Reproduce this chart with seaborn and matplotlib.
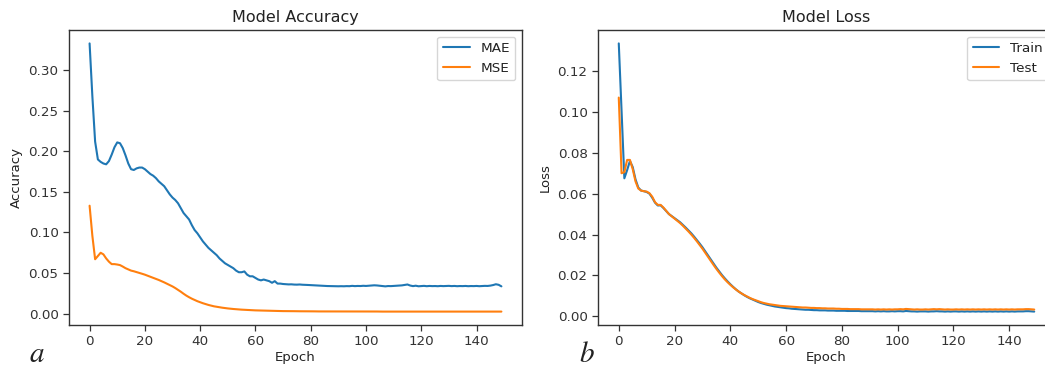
import matplotlib
matplotlib.use("Agg")
import matplotlib.pyplot as plt
import seaborn as sns
import pandas as pd

# ---------------- data ----------------
epochs = list(range(150))

mae = [
    0.333, 0.268, 0.212, 0.190, 0.187, 0.185, 0.184, 0.188, 0.196, 0.205,
    0.211, 0.210, 0.204, 0.195, 0.185, 0.178, 0.177, 0.179, 0.180, 0.180,
    0.178, 0.175, 0.172, 0.170, 0.167, 0.163, 0.160, 0.157, 0.152, 0.147,
    0.143, 0.140, 0.136, 0.130, 0.124, 0.120, 0.116, 0.109, 0.103, 0.099,
    0.094, 0.089, 0.085, 0.081, 0.078, 0.075, 0.072, 0.068, 0.065, 0.062,
    0.060, 0.058, 0.056, 0.053, 0.051, 0.051, 0.052, 0.048, 0.046, 0.046,
    0.044, 0.042, 0.041, 0.042, 0.041, 0.040, 0.038, 0.040, 0.037, 0.037,
    0.0365, 0.0362, 0.0360, 0.0361, 0.0358, 0.0357, 0.0359, 0.0356, 0.0355, 0.0353,
    0.0351, 0.0350, 0.0348, 0.0346, 0.0344, 0.0342, 0.0340, 0.0339, 0.0338, 0.0338,
    0.0337, 0.0338, 0.0337, 0.0339, 0.0338, 0.0342, 0.0339, 0.0341, 0.0340, 0.0343,
    0.0341, 0.0344, 0.0346, 0.0349, 0.0347, 0.0343, 0.0338, 0.0336, 0.0340, 0.0339,
    0.0341, 0.0343, 0.0345, 0.0348, 0.0353, 0.0359, 0.0346, 0.0339, 0.0344, 0.0337,
    0.0340, 0.0342, 0.0338, 0.0341, 0.0339, 0.0340, 0.0338, 0.0341, 0.0339, 0.0340,
    0.0342, 0.0339, 0.0341, 0.0338, 0.0340, 0.0339, 0.0341, 0.0338, 0.0340, 0.0339,
    0.0341, 0.0338, 0.0340, 0.0342, 0.0341, 0.0345, 0.0352, 0.0362, 0.0355, 0.0336,
]

mse = [
    0.133, 0.096, 0.067, 0.071, 0.075, 0.073, 0.068, 0.064, 0.061, 0.061,
    0.0605, 0.0598, 0.0580, 0.0560, 0.0545, 0.0530, 0.0522, 0.0512, 0.0502, 0.0491,
    0.0480, 0.0467, 0.0453, 0.0440, 0.0428, 0.0415, 0.0400, 0.0385, 0.0368, 0.0352,
    0.0335, 0.0315, 0.0293, 0.0270, 0.0245, 0.0222, 0.0202, 0.0184, 0.0168, 0.0153,
    0.0140, 0.0128, 0.0117, 0.0107, 0.0098, 0.0090, 0.0084, 0.0078, 0.0073, 0.0068,
    0.0064, 0.0060, 0.0057, 0.0054, 0.0051, 0.0049, 0.0047, 0.0045, 0.0043, 0.0041,
    0.0040, 0.0039, 0.0038, 0.0037, 0.0036, 0.0035, 0.0034, 0.0033, 0.0033, 0.0032,
    0.0031, 0.0031, 0.0030, 0.0030, 0.0030, 0.0029, 0.0029, 0.0029, 0.0028, 0.0028,
    0.0028, 0.0028, 0.0027, 0.0027, 0.0027, 0.0027, 0.0027, 0.0026, 0.0026, 0.0026,
    0.0026, 0.0026, 0.0026, 0.0026, 0.0026, 0.0026, 0.0026, 0.0026, 0.0026, 0.0026,
    0.0026, 0.0026, 0.0026, 0.0026, 0.0026, 0.0025, 0.0025, 0.0025, 0.0025, 0.0025,
    0.0025, 0.0025, 0.0025, 0.0025, 0.0025, 0.0025, 0.0025, 0.0025, 0.0025, 0.0025,
    0.0025, 0.0025, 0.0025, 0.0025, 0.0025, 0.0025, 0.0025, 0.0025, 0.0025, 0.0025,
    0.0025, 0.0025, 0.0025, 0.0025, 0.0025, 0.0025, 0.0025, 0.0025, 0.0025, 0.0025,
    0.0025, 0.0025, 0.0025, 0.0025, 0.0025, 0.0025, 0.0025, 0.0025, 0.0025, 0.0025,
]

train_loss = [
    0.1335, 0.100, 0.0675, 0.0715, 0.0760, 0.0730, 0.0670, 0.0630, 0.0615, 0.0612,
    0.0608, 0.0600, 0.0580, 0.0556, 0.0542, 0.0543, 0.0530, 0.0515, 0.0500, 0.0490,
    0.0480, 0.0470, 0.0460, 0.0447, 0.0434, 0.0420, 0.0406, 0.0390, 0.0373, 0.0356,
    0.0338, 0.0318, 0.0298, 0.0278, 0.0258, 0.0238, 0.0220, 0.0202, 0.0186, 0.0171,
    0.0157, 0.0144, 0.0132, 0.0121, 0.0112, 0.0103, 0.0095, 0.0088, 0.0082, 0.0076,
    0.0070, 0.0065, 0.0061, 0.0057, 0.0054, 0.0051, 0.0048, 0.0046, 0.0044, 0.0042,
    0.0040, 0.0039, 0.0037, 0.0036, 0.0035, 0.0034, 0.0033, 0.0032, 0.0032, 0.0031,
    0.0030, 0.0030, 0.0029, 0.0029, 0.0029, 0.0028, 0.0028, 0.0028, 0.0027, 0.0027,
    0.0027, 0.0027, 0.0026, 0.0026, 0.0026, 0.0026, 0.0026, 0.0025, 0.0025, 0.0025,
    0.0025, 0.0025, 0.0024, 0.0025, 0.0024, 0.0025, 0.0024, 0.0024, 0.0025, 0.0024,
    0.0025, 0.0025, 0.0024, 0.0026, 0.0025, 0.0024, 0.0024, 0.0023, 0.0024, 0.0024,
    0.0024, 0.0023, 0.0024, 0.0024, 0.0025, 0.0024, 0.0024, 0.0023, 0.0024, 0.0023,
    0.0024, 0.0024, 0.0023, 0.0024, 0.0023, 0.0024, 0.0023, 0.0024, 0.0023, 0.0024,
    0.0023, 0.0024, 0.0023, 0.0024, 0.0023, 0.0024, 0.0023, 0.0024, 0.0023, 0.0024,
    0.0023, 0.0024, 0.0023, 0.0024, 0.0024, 0.0024, 0.0025, 0.0025, 0.0024, 0.0023,
]

test_loss = [
    0.107, 0.070, 0.0705, 0.0765, 0.0765, 0.0720, 0.0660, 0.0625, 0.0615, 0.0612,
    0.0610, 0.0602, 0.0585, 0.0558, 0.0545, 0.0545, 0.0532, 0.0516, 0.0500, 0.0489,
    0.0478, 0.0467, 0.0456, 0.0443, 0.0429, 0.0415, 0.0400, 0.0384, 0.0367, 0.0349,
    0.0331, 0.0311, 0.0291, 0.0271, 0.0251, 0.0232, 0.0214, 0.0197, 0.0181, 0.0167,
    0.0154, 0.0142, 0.0131, 0.0121, 0.0112, 0.0104, 0.0097, 0.0090, 0.0084, 0.0079,
    0.0074, 0.0069, 0.0065, 0.0062, 0.0059, 0.0057, 0.0055, 0.0053, 0.0051, 0.0050,
    0.0049, 0.0048, 0.0047, 0.0046, 0.0045, 0.0044, 0.0043, 0.0043, 0.0042, 0.0041,
    0.0041, 0.0040, 0.0040, 0.0039, 0.0039, 0.0038, 0.0038, 0.0038, 0.0037, 0.0037,
    0.0036, 0.0036, 0.0036, 0.0035, 0.0035, 0.0035, 0.0035, 0.0034, 0.0034, 0.0034,
    0.0034, 0.0034, 0.0033, 0.0034, 0.0033, 0.0034, 0.0033, 0.0034, 0.0033, 0.0034,
    0.0034, 0.0035, 0.0034, 0.0036, 0.0035, 0.0034, 0.0033, 0.0034, 0.0033, 0.0033,
    0.0034, 0.0033, 0.0034, 0.0035, 0.0034, 0.0035, 0.0034, 0.0033, 0.0034, 0.0033,
    0.0033, 0.0034, 0.0033, 0.0034, 0.0033, 0.0034, 0.0033, 0.0034, 0.0033, 0.0034,
    0.0033, 0.0034, 0.0033, 0.0034, 0.0033, 0.0034, 0.0033, 0.0034, 0.0033, 0.0034,
    0.0033, 0.0034, 0.0033, 0.0034, 0.0034, 0.0034, 0.0035, 0.0035, 0.0034, 0.0033,
]

acc_labels = ["MAE", "MSE"]
loss_labels = ["Train", "Test"]
titles = ["Model Accuracy", "Model Loss"]
ylabels = ["Accuracy", "Loss"]
xlabel = "Epoch"
panel_letters = ["a", "b"]

# ---------------- style ----------------
sns.set_style("ticks")
plt.rcParams["font.family"] = ["DejaVu Sans"]
plt.rcParams["mathtext.fontset"] = "stix"
plt.rcParams["axes.edgecolor"] = "#333333"
plt.rcParams["xtick.color"] = "#333333"
plt.rcParams["ytick.color"] = "#333333"
plt.rcParams["text.color"] = "#222222"
plt.rcParams["axes.labelcolor"] = "#222222"

blue = "#1f77b4"
orange = "#ff7f0e"

fig = plt.figure(figsize=(10.45, 3.70), dpi=100)
W, H = 1045.0, 370.0
ax1 = fig.add_axes([69 / W, (H - 325) / H, (522 - 69) / W, (325 - 30) / H])
ax2 = fig.add_axes([598 / W, (H - 325) / H, (1055 - 598) / W, (325 - 30) / H])

df_acc = pd.DataFrame({"epoch": epochs, acc_labels[0]: mae, acc_labels[1]: mse})
df_loss = pd.DataFrame({"epoch": epochs, loss_labels[0]: train_loss, loss_labels[1]: test_loss})

sns.lineplot(data=df_acc, x="epoch", y=acc_labels[0], ax=ax1, color=blue, lw=1.5, label=acc_labels[0])
sns.lineplot(data=df_acc, x="epoch", y=acc_labels[1], ax=ax1, color=orange, lw=1.5, label=acc_labels[1])
sns.lineplot(data=df_loss, x="epoch", y=loss_labels[0], ax=ax2, color=blue, lw=1.5, label=loss_labels[0])
sns.lineplot(data=df_loss, x="epoch", y=loss_labels[1], ax=ax2, color=orange, lw=1.5, label=loss_labels[1])

for ax, t, yl in zip([ax1, ax2], titles, ylabels):
    ax.set_title(t, fontsize=11.5, pad=6)
    ax.set_xlabel(xlabel, fontsize=9.5, labelpad=2)
    ax.set_ylabel(yl, fontsize=9.5, labelpad=4)
    ax.tick_params(axis="both", labelsize=9.7, length=4, width=0.9)
    ax.set_xticks([0, 20, 40, 60, 80, 100, 120, 140])
    for s in ax.spines.values():
        s.set_linewidth(1.0)
    leg = ax.legend(loc="upper right", fontsize=9.7, frameon=True)
    leg.get_frame().set_edgecolor("#cccccc")

ax1.set_yticks([0.0, 0.05, 0.10, 0.15, 0.20, 0.25, 0.30])
ax1.set_yticklabels(["0.00", "0.05", "0.10", "0.15", "0.20", "0.25", "0.30"])
ax2.set_yticks([0.0, 0.02, 0.04, 0.06, 0.08, 0.10, 0.12])
ax2.set_yticklabels(["0.00", "0.02", "0.04", "0.06", "0.08", "0.10", "0.12"])

fig.text(37 / W, (H - 362) / H, r"$" + panel_letters[0] + "$", fontsize=21, ha="center", va="baseline")
fig.text(587 / W, (H - 362) / H, r"$" + panel_letters[1] + "$", fontsize=21, ha="center", va="baseline")

fig.savefig("out.png", dpi=100)
